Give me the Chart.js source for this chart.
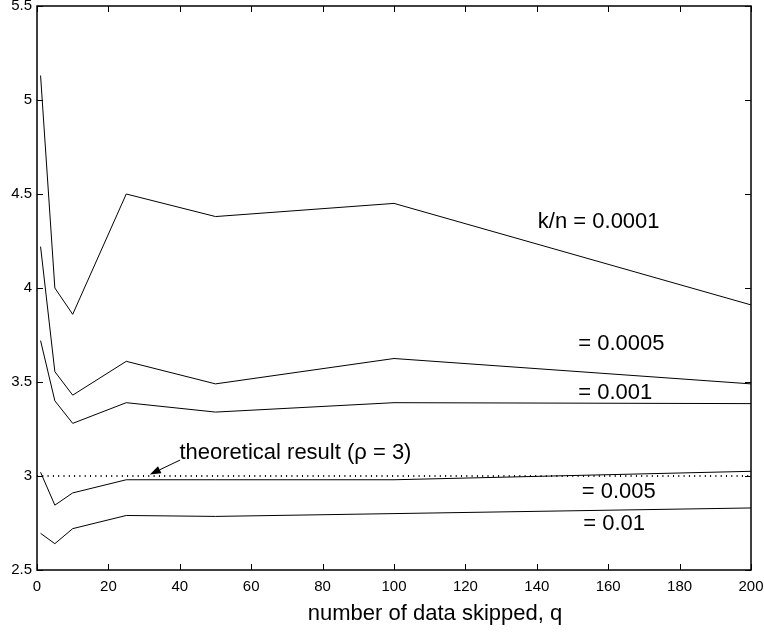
<!DOCTYPE html>
<html>
<head>
<meta charset="utf-8">
<script src="https://cdn.jsdelivr.net/npm/chart.js@4/dist/chart.umd.min.js"></script>
<style>
  html, body { margin: 0; padding: 0; background: #fff; }
  #wrap { width: 764px; height: 638px; }
</style>
</head>
<body>
<div id="wrap"><canvas id="c" width="764" height="638"></canvas></div>
<script>
// data skipped q (x) and estimated rho for each k/n
const qValues = [1, 5, 10, 25, 50, 100, 200];
const rho_00001 = [5.13, 4.00, 3.86, 4.50, 4.38, 4.45, 3.91];
const rho_00005 = [4.22, 3.555, 3.43, 3.61, 3.49, 3.625, 3.49];
const rho_0001 = [3.72, 3.40, 3.28, 3.39, 3.34, 3.39, 3.385];
const rho_0005 = [3.02, 2.845, 2.91, 2.98, 2.98, 2.98, 3.025];
const rho_001 = [2.695, 2.64, 2.72, 2.79, 2.785, 2.80, 2.83];
const theoryX = [0, 200];
const theoryY = [3, 3];

const xTicks = { min: 0, max: 200, step: 20 };
const yTicks = { min: 2.5, max: 5.5, step: 0.5 };

const FONT = "'Liberation Sans', Arial, Helvetica, sans-serif";

// text labels, anchored in data coordinates (left edge, baseline)
const curveLabels = [
  { text: 'k/n = 0.0001', x: 140.3, y: 4.321 },
  { text: '= 0.0005', x: 151.6, y: 3.670 },
  { text: '= 0.001', x: 151.6, y: 3.410 },
  { text: '= 0.005', x: 152.6, y: 2.881 },
  { text: '= 0.01', x: 153.0, y: 2.713 }
];
const theoryNote = { text: 'theoretical result (\u03c1 = 3)', x: 39.9, y: 3.089 };
const arrowFrom = { x: 40.1, y: 3.085 };
const arrowTo = { x: 31.6, y: 3.008 };
const xTitle = 'number of data skipped, q';

const toPoints = (xs, ys) => xs.map((v, i) => ({ x: v, y: ys[i] }));

function curve(label, ys) {
  return {
    label,
    data: toPoints(qValues, ys),
    borderColor: '#000',
    borderWidth: 1,
    pointRadius: 0,
    tension: 0,
    fill: false
  };
}

const data = {
  datasets: [
    curve('k/n = 0.0001', rho_00001),
    curve('k/n = 0.0005', rho_00005),
    curve('k/n = 0.001', rho_0001),
    curve('k/n = 0.005', rho_0005),
    curve('k/n = 0.01', rho_001),
    {
      label: 'theoretical',
      data: toPoints(theoryX, theoryY),
      borderColor: '#000',
      borderWidth: 2,
      borderDash: [1, 4.3],
      pointRadius: 0,
      fill: false
    }
  ]
};

// frame, inward ticks, curve labels, arrow and x title
const decorPlugin = {
  id: 'decor',
  afterDraw(chart) {
    const { ctx, chartArea: a, scales: { x, y } } = chart;
    const TICK = 6;
    ctx.save();
    ctx.strokeStyle = '#000';
    ctx.lineWidth = 1.5;
    ctx.strokeRect(a.left, a.top, a.right - a.left, a.bottom - a.top);

    ctx.lineWidth = 1;
    ctx.beginPath();
    x.ticks.forEach(t => {
      const px = Math.round(x.getPixelForValue(t.value)) + 0.5;
      ctx.moveTo(px, a.bottom); ctx.lineTo(px, a.bottom - TICK);
      ctx.moveTo(px, a.top); ctx.lineTo(px, a.top + TICK);
    });
    y.ticks.forEach(t => {
      const py = Math.round(y.getPixelForValue(t.value)) + 0.5;
      ctx.moveTo(a.left, py); ctx.lineTo(a.left + TICK, py);
      ctx.moveTo(a.right, py); ctx.lineTo(a.right - TICK, py);
    });
    ctx.stroke();

    ctx.fillStyle = '#000';
    ctx.font = '22px ' + FONT;
    ctx.textAlign = 'left';
    ctx.textBaseline = 'alphabetic';
    curveLabels.forEach(l => {
      ctx.fillText(l.text, x.getPixelForValue(l.x), y.getPixelForValue(l.y));
    });
    ctx.fillText(theoryNote.text, x.getPixelForValue(theoryNote.x), y.getPixelForValue(theoryNote.y));

    // arrow to the dotted line
    const x0 = x.getPixelForValue(arrowFrom.x), y0 = y.getPixelForValue(arrowFrom.y);
    const x1 = x.getPixelForValue(arrowTo.x), y1 = y.getPixelForValue(arrowTo.y);
    const ang = Math.atan2(y1 - y0, x1 - x0);
    const hl = 11, hw = 4;
    const bx = x1 - hl * Math.cos(ang), by = y1 - hl * Math.sin(ang);
    ctx.beginPath();
    ctx.moveTo(x0, y0); ctx.lineTo(bx, by);
    ctx.stroke();
    ctx.beginPath();
    ctx.moveTo(x1, y1);
    ctx.lineTo(bx + hw * Math.sin(ang), by - hw * Math.cos(ang));
    ctx.lineTo(bx - hw * Math.sin(ang), by + hw * Math.cos(ang));
    ctx.closePath();
    ctx.fill();

    ctx.textAlign = 'center';
    ctx.fillText(xTitle, 435, 620);
    ctx.restore();
  }
};

const options = {
  responsive: false,
  animation: false,
  layout: { padding: { left: 0, right: 13, top: 6, bottom: 0 } },
  plugins: {
    legend: { display: false },
    tooltip: { enabled: false }
  },
  scales: {
    x: {
      type: 'linear',
      min: xTicks.min,
      max: xTicks.max,
      ticks: {
        stepSize: xTicks.step,
        color: '#000',
        padding: 8,
        maxRotation: 0,
        font: { family: FONT, size: 15 }
      },
      grid: { display: false, drawTicks: false },
      border: { display: false },
      afterFit(scale) {
        scale.height = 68;
        scale.paddingLeft = 0;
        scale.paddingRight = 0;
      }
    },
    y: {
      min: yTicks.min,
      max: yTicks.max,
      ticks: {
        stepSize: yTicks.step,
        color: '#000',
        padding: 5,
        font: { family: FONT, size: 15 },
        callback: v => String(v)
      },
      grid: { display: false, drawTicks: false },
      border: { display: false },
      afterFit(scale) {
        scale.width = 37;
        scale.paddingTop = 0;
        scale.paddingBottom = 0;
      }
    }
  }
};

new Chart(document.getElementById('c'), {
  type: 'line',
  data,
  options,
  plugins: [decorPlugin]
});
</script>
</body>
</html>
